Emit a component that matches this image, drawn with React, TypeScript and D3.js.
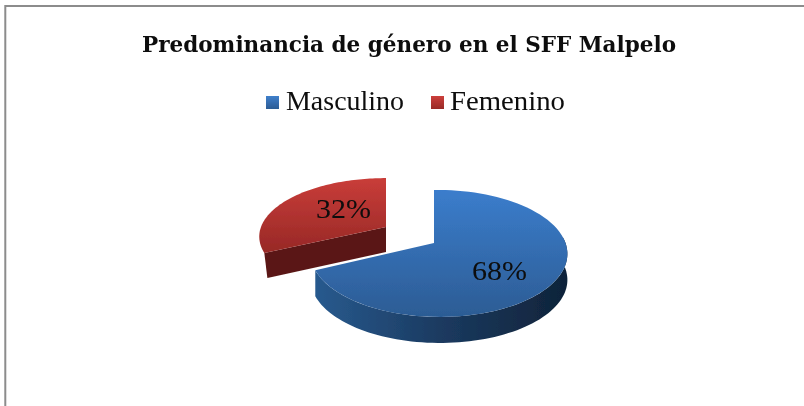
import React from "react";
import * as d3 from "d3";

const categories = ["Masculino", "Femenino"];
const shares = [68, 32];
const titleText = "Predominancia de género en el SFF Malpelo";

const k = 0.165;
type Proj = { ax: number; ay: number; R: number; S: number; m: number };
const project = (p: Proj, a: number): [number, number] => {
  const u = Math.sin(a), v = Math.cos(a);
  const w = 1 + k * v + p.m * u;
  return [p.ax + (p.R * u) / w, p.ay - (p.S * v) / w];
};
const rim = (p: Proj, a0: number, a1: number, n = 80): [number, number][] =>
  d3.range(n + 1).map((i) => project(p, a0 + ((a1 - a0) * i) / n));

const toPath = (pts: [number, number][], close = true) =>
  (d3.line()(pts) ?? "") + (close ? "Z" : "");

const proj: Proj[] = [
  { ax: 434, ay: 243, R: 126.5, S: 61.7, m: -0.038 },
  { ax: 386, ay: 227, R: 125, S: 57, m: 0 },
];
const depth = 26;
const titleFont = "'DejaVu Serif Condensed', 'DejaVu Serif', serif";
const bodyFont = "'Liberation Serif', serif";

export default function App() {
  const arcs = d3.pie<number>().sort(null)(shares);
  const blue = arcs[0], red = arcs[1];
  const p0 = proj[0], p1 = proj[1];

  const blueRim = rim(p0, Math.max(blue.startAngle, Math.PI / 2 - 0.1), blue.endAngle);
  const blueSide = [...blueRim, ...blueRim.slice().reverse().map(([x, y]) => [x, y + depth] as [number, number])];
  const blueTop: [number, number][] = [[p0.ax, p0.ay], ...rim(p0, blue.startAngle, blue.endAngle)];

  const redTop: [number, number][] = [[p1.ax, p1.ay], ...rim(p1, red.startAngle, red.endAngle)];
  const redStart = project(p1, red.startAngle);
  const redSide: [number, number][] = [
    [p1.ax, p1.ay], redStart,
    [redStart[0] + 3, redStart[1] + depth - 1], [p1.ax, p1.ay + depth - 1],
  ];

  return (
    <svg width={804} height={406} style={{ position: "absolute", left: 0, top: 0, background: "#fff" }}>
      <defs>
        <linearGradient id="bt" x1="0" y1="0" x2="0" y2="1">
          <stop offset="0" stopColor="#3b7dcc" />
          <stop offset="1" stopColor="#2c5c94" />
        </linearGradient>
        <linearGradient id="bs" x1="0" y1="0" x2="1" y2="0">
          <stop offset="0" stopColor="#285a8e" />
          <stop offset="0.5" stopColor="#1b3a60" />
          <stop offset="1" stopColor="#0f2339" />
        </linearGradient>
        <linearGradient id="rt" x1="0" y1="0" x2="0" y2="1">
          <stop offset="0" stopColor="#c93d39" />
          <stop offset="1" stopColor="#972826" />
        </linearGradient>
        <linearGradient id="lb" x1="0" y1="0" x2="0" y2="1">
          <stop offset="0" stopColor="#3f7fcb" />
          <stop offset="1" stopColor="#2c5c94" />
        </linearGradient>
        <linearGradient id="lr" x1="0" y1="0" x2="0" y2="1">
          <stop offset="0" stopColor="#cc3f3b" />
          <stop offset="1" stopColor="#982a27" />
        </linearGradient>
        <filter id="soft" x="-5%" y="-5%" width="110%" height="110%">
          <feGaussianBlur stdDeviation="0.5" />
        </filter>
      </defs>

      <path d="M5.3 406V6H804" fill="none" stroke="#8c8c8c" strokeWidth={2} />

      <g filter="url(#soft)">
        <path d={toPath(blueSide)} fill="url(#bs)" />
        <path d={toPath(blueTop)} fill="url(#bt)" />
        <path d={toPath(redSide)} fill="#5a1714" />
        <path d={toPath(redTop)} fill="url(#rt)" />
      </g>

      <g fill="#0b0b0b" filter="url(#soft)">
        <text x={142} y={52} fontFamily={titleFont} fontSize={22} fontWeight={700} textLength={534} lengthAdjust="spacingAndGlyphs">
          {titleText}
        </text>
        <g fontFamily={bodyFont} fontSize={27}>
          <rect x={266} y={96} width={13} height={13} fill="url(#lb)" />
          <text x={286} y={110} textLength={118} lengthAdjust="spacingAndGlyphs">{categories[0]}</text>
          <rect x={431} y={96} width={13} height={13} fill="url(#lr)" />
          <text x={450} y={110} textLength={115} lengthAdjust="spacingAndGlyphs">{categories[1]}</text>
          <text x={316} y={218} textLength={55} lengthAdjust="spacingAndGlyphs">{shares[1]}%</text>
          <text x={472} y={280} textLength={55} lengthAdjust="spacingAndGlyphs">{shares[0]}%</text>
        </g>
      </g>
    </svg>
  );
}
